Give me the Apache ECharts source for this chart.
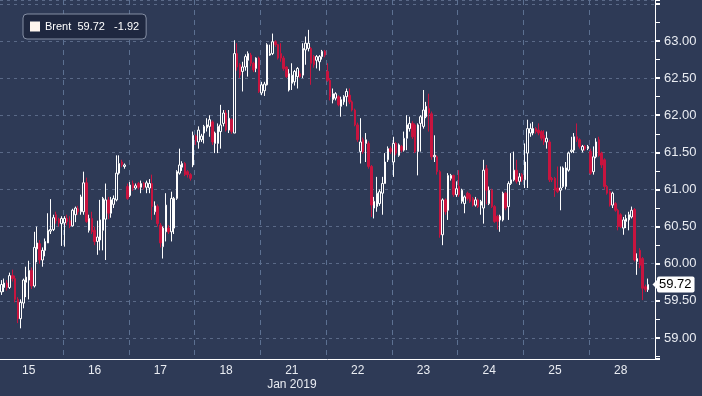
<!DOCTYPE html>
<html>
<head>
<meta charset="utf-8">
<script src="https://cdn.jsdelivr.net/npm/echarts@6/dist/echarts.min.js"></script>
<style>
html,body{margin:0;padding:0;background:#2e3a56;}
#chart{width:702px;height:396px;}
</style>
</head>
<body>
<div id="chart"></div>
<script>
// Hourly Brent candles, rows are [open, close, low, high]
const dayLabels = ['15','16','17','18','21','22','23','24','25','28'];
const seriesName = 'Brent';
const lastPrice = 59.72;
const lastChange = -1.92;
const candlesPerDay = 24;

const day15 = [
[59.62,59.72,59.58,59.78],[59.68,59.74,59.62,59.80],[59.74,59.68,59.64,59.78],
[59.68,59.84,59.66,59.88],[59.84,59.80,59.76,59.92],[59.80,59.52,59.48,59.84],[59.52,59.26,59.20,59.55],
[59.26,59.48,59.13,59.52],[59.47,59.78,59.40,59.80],[59.75,59.82,59.55,59.96],[59.78,59.91,59.52,60.04],
[59.91,59.70,59.66,59.95],[59.70,60.22,59.68,60.43],[60.20,60.28,60.02,60.50],[60.27,60.05,60.00,60.32],
[60.05,60.18,59.96,60.22],[60.18,60.30,60.10,60.34],[60.28,60.45,60.28,60.68],[60.44,60.46,60.40,60.87],
[60.46,60.62,60.44,60.66],[60.66,60.58,60.54,60.70],[60.60,60.55,60.50,60.62],[60.54,60.61,60.24,60.64]
];
const day16 = [
[60.55,60.61,60.23,60.64],[60.61,60.57,60.52,60.66],[60.58,60.51,60.48,60.64],[60.51,60.72,60.50,60.74],
[60.66,60.75,60.56,60.77],[60.74,60.70,60.66,60.78],[60.70,60.90,60.66,60.93],[60.70,61.09,60.66,61.24],
[61.09,60.57,60.55,61.16],[60.45,60.61,60.42,60.66],[60.61,60.43,60.40,60.70],[60.45,60.30,60.25,60.50],
[60.30,60.36,60.12,60.58],[60.32,60.59,60.18,60.86],[60.45,60.88,60.18,60.90],[60.60,60.86,60.05,61.08],
[60.86,60.68,60.60,60.90],[60.68,60.86,60.62,60.90],[60.80,60.88,60.75,60.92],[60.86,61.22,60.84,61.46],
[61.22,61.35,61.20,61.46],[61.37,61.33,61.30,61.40],[61.31,61.33,61.28,61.35],[61.04,60.88,60.86,61.08]
];
const day17 = [
[60.92,61.06,60.90,61.10],[61.08,61.02,60.98,61.12],[61.02,61.05,61.00,61.08],[61.08,61.03,61.00,61.10],
[61.03,61.08,60.95,61.12],[61.08,61.03,61.00,61.10],[61.03,61.09,60.95,61.12],[61.02,61.08,60.95,61.14],
[61.08,60.77,60.59,61.20],[60.70,60.78,60.66,60.84],[60.77,60.54,60.50,60.80],[60.52,60.28,60.22,60.55],
[60.23,60.48,60.07,60.50],[60.43,60.79,60.30,60.95],[60.48,60.43,60.40,60.52],[60.43,60.88,60.30,60.97],
[60.48,60.88,60.40,60.90],[60.88,61.24,60.86,61.26],[61.22,61.33,61.20,61.55],[61.30,61.35,61.25,61.38],
[61.35,61.20,61.18,61.37],[61.24,61.20,61.16,61.26],[61.20,61.15,61.12,61.22],[61.33,61.73,61.30,61.78]
];
const day18 = [
[61.72,61.66,61.60,61.74],[61.64,61.80,61.55,61.85],[61.67,61.72,61.64,61.75],[61.76,61.85,61.62,61.87],
[61.83,61.87,61.78,61.96],[61.85,61.94,61.71,62.00],[61.91,61.64,61.60,61.93],[61.62,61.76,61.49,61.78],
[61.62,61.85,61.49,61.89],[61.78,61.87,61.55,62.14],[61.89,62.03,61.85,62.07],[62.03,61.80,61.78,62.07],
[61.80,61.96,61.76,62.07],[61.94,61.78,61.75,61.96],[61.76,62.83,61.76,63.01],[62.83,62.65,62.60,62.97],
[62.68,62.54,62.50,62.70],[62.59,62.65,62.32,62.72],[62.65,62.79,62.60,62.82],[62.74,62.83,62.52,62.86],
[62.81,62.70,62.66,62.84],[62.70,62.61,62.58,62.72],[62.63,62.77,62.58,62.78],[62.77,62.32,62.30,62.79]
];
const day21 = [
[62.30,62.41,62.27,62.45],[62.33,62.42,62.26,62.45],[62.41,62.95,62.40,62.97],[62.81,62.83,62.80,62.95],
[62.83,62.99,62.81,63.10],[62.99,62.95,62.92,63.01],[62.95,62.77,62.75,62.96],[62.83,62.77,62.72,62.97],
[62.77,62.63,62.60,62.80],[62.65,62.52,62.50,62.66],[62.34,62.56,62.32,62.62],[62.43,62.54,62.34,62.70],
[62.45,62.59,62.40,62.61],[62.52,62.63,62.36,62.65],[62.56,62.52,62.50,62.60],[62.54,62.90,62.50,62.97],
[62.88,62.97,62.68,63.06],[62.90,62.97,62.86,63.15],[62.90,62.70,62.41,62.92],[62.79,62.68,62.64,62.81],
[62.74,62.79,62.63,62.81],[62.72,62.79,62.60,62.81],[62.79,62.86,62.75,62.88],[62.86,62.81,62.78,62.88]
];
const day22 = [
[62.59,62.47,62.45,62.70],[62.47,62.25,62.20,62.50],[62.21,62.29,62.16,62.36],[62.23,62.29,62.20,62.31],
[62.25,62.14,62.12,62.27],[62.12,62.21,61.98,62.25],[62.18,62.25,62.14,62.27],[62.25,62.32,62.12,62.36],
[62.27,62.18,62.15,62.36],[62.18,62.07,62.05,62.20],[62.07,61.87,61.85,62.09],[61.87,61.67,61.64,61.90],
[61.51,61.64,61.35,61.96],[61.67,61.51,61.48,61.70],[61.62,61.67,61.37,61.76],[61.62,61.31,61.28,61.65],
[61.31,60.79,60.63,61.33],[60.75,60.84,60.61,60.90],[60.77,60.95,60.70,61.17],[60.81,60.97,60.78,61.00],
[60.95,61.08,60.66,61.17],[61.08,61.37,61.08,61.49],[61.40,61.55,61.37,61.58],[61.55,61.51,61.48,61.58]
];
const day23 = [
[61.37,61.62,61.17,61.71],[61.62,61.49,61.46,61.64],[61.46,61.60,61.44,61.62],[61.58,61.53,61.50,61.60],
[61.53,61.69,61.51,61.78],[61.69,61.87,61.53,62.00],[61.82,61.89,61.78,61.98],[61.89,61.71,61.68,61.92],
[61.87,61.51,61.49,61.89],[61.51,61.87,61.19,61.89],[61.89,61.98,61.51,62.00],[61.85,62.07,61.82,62.34],
[61.98,62.12,61.96,62.18],[62.09,62.03,61.78,62.29],[62.02,61.44,61.40,62.05],[61.44,61.46,61.37,61.73],
[61.44,61.24,61.20,61.46],[61.24,60.39,60.35,61.26],[60.39,60.86,60.25,60.88],[60.86,60.70,60.66,60.88],
[60.72,61.19,60.59,61.22],[61.15,61.19,61.12,61.21],[61.19,60.93,60.90,61.20],[60.93,61.01,60.90,61.11]
];
const day24 = [
[61.04,60.93,60.90,61.26],[60.84,60.99,60.81,61.01],[60.81,60.90,60.68,60.92],[60.95,60.88,60.85,60.97],
[60.93,60.84,60.82,60.95],[60.88,60.79,60.77,60.90],[60.79,60.86,60.77,60.90],[60.86,60.77,60.75,60.88],
[60.79,60.84,60.66,60.86],[60.75,61.26,60.54,61.40],[61.28,60.99,60.80,61.33],[60.81,60.99,60.79,61.04],
[60.99,60.77,60.75,61.01],[60.77,60.57,60.55,60.79],[60.64,60.57,60.46,60.66],[60.59,60.64,60.43,60.66],
[60.59,60.95,60.57,60.97],[60.95,60.75,60.72,60.97],[60.77,61.08,60.59,61.11],[61.08,61.13,61.06,61.49],
[61.13,61.26,61.11,61.51],[61.26,61.11,61.08,61.40],[61.11,61.17,61.06,61.22],[61.20,61.13,61.10,61.22]
];
const day25 = [
[61.13,61.37,61.02,61.62],[61.49,61.82,61.02,61.94],[61.76,61.82,61.71,61.89],[61.76,61.82,61.73,61.91],
[61.82,61.78,61.75,61.84],[61.80,61.76,61.73,61.89],[61.78,61.69,61.66,61.80],[61.73,61.64,61.60,61.80],
[61.64,61.69,61.55,61.78],[61.64,61.13,61.10,61.67],[61.15,61.13,61.10,61.17],[61.15,60.99,60.90,61.17],
[61.02,60.97,60.95,61.31],[60.99,61.02,60.72,61.31],[61.04,61.29,61.02,61.31],[61.04,61.29,61.00,61.37],
[61.26,61.49,61.24,61.51],[61.51,61.53,61.49,61.71],[61.53,61.71,61.49,61.76],[61.71,61.67,61.64,61.89],
[61.67,61.58,61.55,61.69],[61.53,61.58,61.50,61.60],[61.58,61.55,61.52,61.60],[61.55,61.58,61.53,61.60]
];
const day28 = [
[61.51,61.22,61.20,61.55],[61.24,61.44,61.20,61.58],[61.44,61.64,61.42,61.69],[61.67,61.46,61.44,61.71],
[61.49,61.33,61.29,61.51],[61.40,61.04,61.00,61.42],[61.04,60.95,60.93,61.06],[60.97,60.79,60.77,60.99],
[60.79,60.95,60.75,60.97],[60.81,60.72,60.70,60.83],[60.72,60.50,60.45,60.74],[60.66,60.50,60.48,60.68],
[60.48,60.59,60.39,60.63],[60.57,60.61,60.48,60.66],[60.59,60.66,60.45,60.70],[60.63,60.72,60.61,60.77],
[60.73,60.05,60.03,60.75],[60.03,60.07,59.85,60.14],[60.18,59.98,59.94,60.21],[60.07,59.67,59.51,60.09],
[59.69,59.65,59.62,59.72],[59.65,59.72,59.62,59.80]
];

const days = [day15, day16, day17, day18, day21, day22, day23, day24, day25, day28];

// first day is cut at the left edge of the plot; others have a full set of slots
const categories = [];
const values = [];
const labelSlots = {};
const boundarySlots = {};
days.forEach((d, di) => {
  const slots = di === 0 ? d.length : candlesPerDay;
  const start = categories.length;
  boundarySlots[start] = true;
  labelSlots[di === 0 ? start + slots - 13 : start + 11] = dayLabels[di];
  for (let h = 0; h < slots; h++) {
    categories.push(dayLabels[di] + ' ' + h);
    values.push(h < d.length ? d[h] : '-');
  }
});

const BG = '#2e3a56';
const RED = '#c8143f';
const GRID = '#5a6987';
const TXT = '#e9ecf2';
const FONT = 'Liberation Sans, Arial, sans-serif';
const TAG_ARROW = 'path://M0,0 L10,0 L5,10 Z';

const chart = echarts.init(document.getElementById('chart'), null, {renderer: 'canvas'});
chart.setOption({
  animation: false,
  backgroundColor: BG,
  textStyle: {fontFamily: FONT},
  legend: {
    left: 23, top: 14,
    icon: 'rect', itemWidth: 10, itemHeight: 10, itemGap: 5,
    padding: [7, 7, 7, 7],
    backgroundColor: '#1f2840',
    borderColor: '#848ea3', borderWidth: 1, borderRadius: 4,
    selectedMode: false,
    data: [{name: seriesName, itemStyle: {color: '#fff6ee', borderWidth: 0}}],
    formatter: (n) => n + '  ' + lastPrice.toFixed(2) + '   ' + lastChange.toFixed(2),
    textStyle: {color: '#ffffff', fontSize: 11, fontFamily: FONT}
  },
  grid: {left: 0, right: 47, top: 0, bottom: 37},
  xAxis: {
    type: 'category',
    data: categories,
    boundaryGap: true,
    axisLine: {show: true, lineStyle: {color: '#ffffff', width: 1}},
    axisTick: {show: false},
    axisLabel: {
      color: TXT, fontSize: 12, fontFamily: FONT, margin: 5, lineHeight: 14,
      interval: (i) => labelSlots[i] !== undefined,
      formatter: (v, i) => {
        const d = labelSlots[i];
        return d === '21' ? d + '\nJan 2019' : d;
      }
    },
    splitLine: {
      show: true,
      interval: (i) => boundarySlots[i] === true && i > 0,
      lineStyle: {color: '#5c7091', type: [5, 5], width: 1}
    }
  },
  yAxis: {
    type: 'value',
    position: 'right',
    min: 58.717, max: 63.552,
    minInterval: 0.5, maxInterval: 0.5,
    scale: true,
    axisLine: {show: true, lineStyle: {color: '#ffffff', width: 1}},
    axisTick: {show: true, length: 5, lineStyle: {color: '#ffffff', width: 2}},
    minorTick: {show: true, splitNumber: 2, length: 5, lineStyle: {color: '#ffffff', width: 1}},
    axisLabel: {
      color: TXT, fontSize: 13, fontFamily: FONT, margin: 9,
      showMinLabel: false, showMaxLabel: false,
      formatter: (v) => (v <= 63.2 && Math.abs(v * 2 - Math.round(v * 2)) < 1e-6) ? v.toFixed(2) : ''
    },
    splitLine: {show: true, lineStyle: {color: GRID, type: [3, 4], width: 1}}
  },
  series: [{
    name: seriesName,
    type: 'candlestick',
    data: values,
    barWidth: 2,
    silent: true,
    itemStyle: {
      color: BG, color0: RED,
      borderColor: '#ffffff', borderColor0: RED,
      borderWidth: 1
    },
    markLine: {
      silent: true,
      symbol: ['none', TAG_ARROW],
      symbolSize: [10, 5],
      lineStyle: {color: '#ffffff', width: 0},
      data: [{yAxis: day28[day28.length - 1][1]}],
      label: {
        show: true, position: 'end', distance: 2,
        formatter: lastPrice.toFixed(2),
        color: '#000000', backgroundColor: '#ffffff',
        fontSize: 13, fontFamily: FONT,
        padding: [2, 3, 1, 2], borderRadius: 2
      }
    }
  }]
});
</script>
</body>
</html>
